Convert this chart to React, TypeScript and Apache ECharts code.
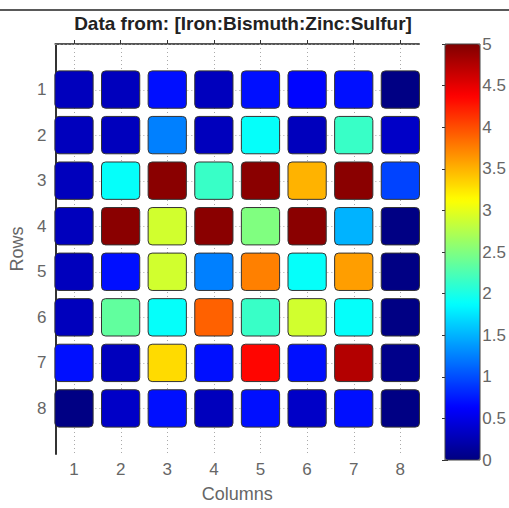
import React, { useEffect, useRef } from "react";
import * as echarts from "echarts";

const columns = [1, 2, 3, 4, 5, 6, 7, 8];
const rows = [1, 2, 3, 4, 5, 6, 7, 8];
// values[row-1][col-1]
const values = [
  [0.3, 0.3, 0.7, 0.3, 0.7, 0.65, 0.7, 0.02],
  [0.3, 0.3, 1.25, 0.3, 1.9, 0.3, 2.15, 0.35],
  [0.3, 1.9, 4.95, 2.15, 4.95, 3.5, 4.95, 0.95],
  [0.3, 4.95, 2.9, 4.95, 2.5, 4.95, 1.5, 0.02],
  [0.3, 0.7, 2.9, 1.25, 3.75, 1.9, 3.6, 0.02],
  [0.3, 2.35, 1.9, 3.9, 2.15, 2.9, 1.9, 0.02],
  [0.7, 0.3, 3.3, 0.7, 4.35, 0.7, 4.75, 0.05],
  [0.02, 0.35, 0.7, 0.3, 0.7, 0.35, 0.7, 0.02],
];
const colorbarTicks = [0, 0.5, 1, 1.5, 2, 2.5, 3, 3.5, 4, 4.5, 5];
const jet = ["#000080", "#0000ff", "#0080ff", "#00ffff", "#80ff80", "#ffff00", "#ff8000", "#ff0000", "#800000"];
const gridYLines = [0, 1, 2, 3, 4, 5, 6, 7, 8];

const FONT = '"Liberation Sans", Arial, sans-serif';
const LABEL = "#666";

export default function App() {
  const ref = useRef<HTMLDivElement>(null);
  useEffect(() => {
    if (!ref.current) return;
    const chart = echarts.init(ref.current, undefined, { renderer: "svg" });
    const cellData: number[][] = [];
    rows.forEach((r, ri) => columns.forEach((c, ci) => cellData.push([c, r, values[ri][ci]])));

    const option: any = {
      animation: false,
      textStyle: { fontFamily: FONT },
      grid: [
        { left: 55, top: 44, width: 364, height: 416 },
        { left: 445, top: 44, width: 35, height: 416 },
      ],
      xAxis: [
        {
          gridIndex: 0, type: "value", min: 0.6, max: 8.4,
          axisLine: { show: true, lineStyle: { color: "#555", width: 2 } },
          axisTick: { show: true, inside: true, length: 4, customValues: columns, lineStyle: { color: "#333" } },
          axisLabel: { customValues: columns, color: LABEL, fontSize: 17, margin: 7, fontFamily: FONT,
            formatter: (v: number) => (Number.isInteger(v) ? String(v) : "") },
          splitLine: { show: false },
          name: "Columns", nameLocation: "middle", nameGap: 31,
          nameTextStyle: { color: LABEL, fontSize: 18, fontFamily: FONT },
        },
        { gridIndex: 1, type: "value", min: 0, max: 1, show: false },
      ],
      yAxis: [
        {
          gridIndex: 0, type: "value", min: 0, max: 9, interval: 1, inverse: true,
          axisLine: { show: true, lineStyle: { color: "#333", width: 2 } },
          axisTick: { show: true, inside: true, length: 4, customValues: rows, lineStyle: { color: "#333" } },
          axisLabel: { customValues: rows, color: LABEL, fontSize: 17, margin: 9, fontFamily: FONT,
            formatter: (v: number) => (v >= 1 && v <= 8 ? String(v) : "") },
          splitLine: { show: false },
          name: "Rows", nameLocation: "middle", nameGap: 26, nameRotate: 90,
          nameTextStyle: { color: LABEL, fontSize: 18, fontFamily: FONT },
        },
        {
          gridIndex: 1, type: "value", min: 0, max: 5, interval: 0.5, position: "right",
          axisLine: { show: false },
          axisTick: { show: true, inside: true, length: 3, lineStyle: { color: "#333" } },
          axisLabel: { color: LABEL, fontSize: 17, margin: 3, fontFamily: FONT },
          splitLine: { show: false },
        },
        {
          gridIndex: 1, type: "value", min: 0, max: 5, interval: 0.5, position: "left",
          axisLine: { show: false },
          axisTick: { show: true, inside: true, length: 3, lineStyle: { color: "#333" } },
          axisLabel: { show: false },
          splitLine: { show: false },
        },
      ],
      visualMap: {
        type: "continuous", min: 0, max: 5, dimension: 2, seriesIndex: 2,
        show: true, calculable: false, orient: "vertical",
        left: 445, top: 44, itemWidth: 35, itemHeight: 416, padding: 0,
        inRange: { color: jet },
      },
      series: [
        {
          type: "custom", xAxisIndex: 0, yAxisIndex: 0, silent: true, z: 1,
          data: columns.map((c) => [c, 0]),
          renderItem: (params: any, api: any) => {
            const cs = params.coordSys;
            const x = Math.round(api.coord([api.value(0), 0])[0]) + 0.5;
            return { type: "line", shape: { x1: x, y1: cs.y, x2: x, y2: cs.y + cs.height },
              style: { stroke: "#aaa", lineWidth: 1, lineDash: [1, 3] } };
          },
        },
        {
          type: "custom", xAxisIndex: 0, yAxisIndex: 0, silent: true, z: 1,
          data: gridYLines.map((r) => [1, r]),
          renderItem: (params: any, api: any) => {
            const cs = params.coordSys;
            const y = Math.round(api.coord([1, api.value(1)])[1]) + 0.5;
            return { type: "line", shape: { x1: cs.x, y1: y, x2: cs.x + cs.width, y2: y },
              style: { stroke: "#aaa", lineWidth: 1, lineDash: [1, 3] } };
          },
        },
        {
          type: "custom", xAxisIndex: 0, yAxisIndex: 0, silent: true, z: 2,
          encode: { x: 0, y: 1 },
          data: cellData,
          renderItem: (params: any, api: any) => {
            const c = api.coord([api.value(0), api.value(1)]);
            const s = api.size([1, 1]);
            const w = s[0] * 0.82, h = s[1] * 0.82;
            return { type: "rect", shape: { x: c[0] - w / 2, y: c[1] - h / 2, width: w, height: h, r: 4 },
              style: { fill: api.visual("color"), stroke: "#333", lineWidth: 1 } };
          },
        },
        {
          type: "scatter", xAxisIndex: 1, yAxisIndex: 1, data: colorbarTicks.map((t) => [-1, t]), symbolSize: 0, silent: true,
        },
      ],
      graphic: [
        { type: "line", shape: { x1: 0, y1: 10, x2: 509, y2: 10 }, style: { stroke: "#222", lineWidth: 1.5 } },
        { type: "text", x: 243, y: 23, style: { text: "Data from: [Iron:Bismuth:Zinc:Sulfur]",
          font: `bold 19px ${FONT}`, fill: "#222", textAlign: "center", textVerticalAlign: "middle" } },
        { type: "rect", shape: { x: 445, y: 44, width: 35, height: 416 }, style: { fill: "none", stroke: "#444", lineWidth: 1 }, z: 100 },
      ],
    };
    chart.setOption(option);
    return () => chart.dispose();
  }, []);
  return <div ref={ref} style={{ position: "absolute", left: 0, top: 0, width: 509, height: 508 }} />;
}
